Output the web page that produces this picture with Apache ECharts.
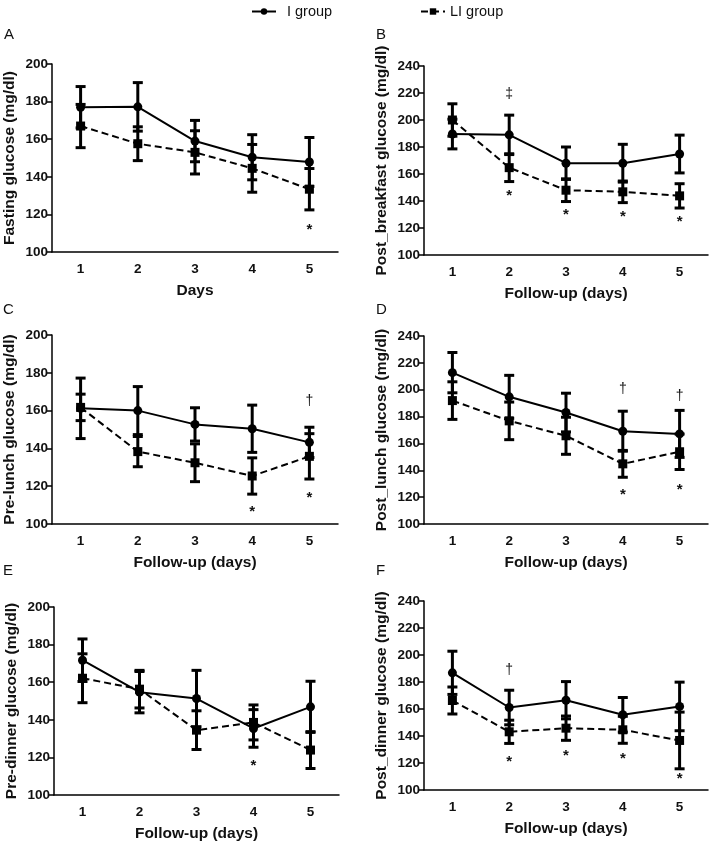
<!DOCTYPE html>
<html>
<head>
<meta charset="utf-8">
<script src="https://cdn.jsdelivr.net/npm/echarts@6/dist/echarts.min.js"></script>
<style>
html,body{margin:0;padding:0;background:#fff;}
#chart{width:709px;height:843px;}
</style>
</head>
<body>
<div id="chart"></div>
<script>
// ---- Data ----
const days = ['1', '2', '3', '4', '5'];
const seriesNames = ['I group', 'LI group'];
const panelLetters = ['A', 'B', 'C', 'D', 'E', 'F'];
const yTitles = ['Fasting glucose (mg/dl)', 'Post_breakfast glucose (mg/dl)', 'Pre-lunch glucose (mg/dl)',
  'Post_lunch glucose (mg/dl)', 'Pre-dinner glucose (mg/dl)', 'Post_dinner glucose (mg/dl)'];
const xTitles = ['Days', 'Follow-up (days)', 'Follow-up (days)', 'Follow-up (days)', 'Follow-up (days)', 'Follow-up (days)'];
const yMax = [200, 240, 200, 240, 200, 240];
const yMin = [100, 100, 100, 100, 100, 100];

// Panel A: Fasting
const aI = [177, 177.2, 159, 150.4, 147.9];
const aIerr = [11, 12.9, 11, 12, 13];
const aLI = [167, 157.6, 153, 144.5, 133.4];
const aLIerr = [11.5, 9, 11.5, 12.7, 11];
const aMarks = [[4, 112, '*']];

// Panel B: Post breakfast
const bI = [189.6, 189, 168, 168, 174.8];
const bIerr = [11, 14.6, 12, 14, 14];
const bLI = [200, 164.7, 148, 146.8, 143.8];
const bLIerr = [12, 10.3, 8.4, 8, 9];
const bMarks = [[1, 219, '‡'], [1, 144, '*'], [2, 130, '*'], [3, 128.6, '*'], [4, 124.4, '*']];

// Panel C: Pre-lunch
const cI = [161.2, 160, 152.7, 150.4, 143.2];
const cIerr = [16, 12.7, 8.8, 12.5, 8];
const cLI = [161.7, 138.3, 132.4, 125.4, 135.8];
const cLIerr = [7, 8, 10, 9.6, 12];
const cMarks = [[3, 106.5, '*'], [4, 165.2, '†'], [4, 113.6, '*']];

// Panel D: Post lunch
const dI = [212.7, 194.7, 183, 169.1, 167.1];
const dIerr = [15, 16, 14.4, 14.9, 17.5];
const dLI = [191.9, 176.8, 165.7, 144.8, 153.8];
const dLIerr = [14, 14, 13.8, 10, 13.2];
const dMarks = [[3, 200.4, '†'], [3, 121.6, '*'], [4, 195.2, '†'], [4, 125.3, '*']];

// Panel E: Pre-dinner
const eI = [171.7, 154.7, 151.3, 135.4, 146.9];
const eIerr = [11.3, 11, 15, 10, 13.6];
const eLI = [162.1, 156.3, 134.5, 138.6, 123.9];
const eLIerr = [13, 10, 10.3, 9.3, 9.8];
const eMarks = [[3, 115.6, '*']];

// Panel F: Post dinner
const fI = [186.8, 161.1, 166.5, 155.7, 161.9];
const fIerr = [16, 12.8, 13.8, 12.8, 18];
const fLI = [166.3, 143.1, 145.8, 144.6, 136.7];
const fLIerr = [10, 8.6, 9, 10, 21];
const fMarks = [[1, 189, '†'], [1, 120.7, '*'], [2, 125.4, '*'], [3, 123.2, '*'], [4, 108.4, '*']];

const panelData = [
  [aI, aIerr, aLI, aLIerr, aMarks],
  [bI, bIerr, bLI, bLIerr, bMarks],
  [cI, cIerr, cLI, cLIerr, cMarks],
  [dI, dIerr, dLI, dLIerr, dMarks],
  [eI, eIerr, eLI, eLIerr, eMarks],
  [fI, fIerr, fLI, fLIerr, fMarks]
];

// ---- Layout ----
const grids = [
  {left: 52, top: 64, width: 286, height: 188},
  {left: 424, top: 66, width: 284, height: 189},
  {left: 52, top: 335, width: 286, height: 189},
  {left: 424, top: 336, width: 284, height: 188},
  {left: 54, top: 607, width: 285, height: 188},
  {left: 424, top: 601, width: 284, height: 189}
];
const letterPos = [[4, 27], [376, 27], [3, 302], [376, 302], [3, 563], [376, 563]];

const FONT = '"Liberation Sans", Arial, Helvetica, sans-serif';

const option = {
  backgroundColor: '#fff',
  animation: false,
  textStyle: {fontFamily: FONT},
  legend: [
    {data: ['I group'], left: 246, top: -1, itemWidth: 24, itemHeight: 8, itemGap: 0,
      textStyle: {fontSize: 14.5, color: '#111', fontFamily: FONT, padding: [0, 0, 0, 6]}},
    {data: ['LI group'], left: 415, top: -1, itemWidth: 24, itemHeight: 8, itemGap: 0,
      textStyle: {fontSize: 14.5, color: '#111', fontFamily: FONT, padding: [0, 0, 0, 0]}}
  ],
  grid: grids.map(g => Object.assign({outerBoundsMode: 'none', containLabel: false}, g)),
  xAxis: [], yAxis: [], series: [],
  graphic: panelLetters.map((l, i) => ({
    type: 'text', left: letterPos[i][0], top: letterPos[i][1],
    style: {text: l, fontSize: 15, fontFamily: FONT, fill: '#111'}
  }))
};

function errRender(params, api) {
  const x = api.value(0);
  const lo = api.coord([x, api.value(1)]);
  const hi = api.coord([x, api.value(2)]);
  const hw = 5;
  const st = {stroke: '#000', lineWidth: 3};
  return {
    type: 'group',
    children: [
      {type: 'line', shape: {x1: lo[0], y1: lo[1], x2: hi[0], y2: hi[1]}, style: st},
      {type: 'line', shape: {x1: lo[0] - hw, y1: lo[1], x2: lo[0] + hw, y2: lo[1]}, style: st},
      {type: 'line', shape: {x1: hi[0] - hw, y1: hi[1], x2: hi[0] + hw, y2: hi[1]}, style: st}
    ]
  };
}
function markRender(params, api) {
  const p = api.coord([api.value(0), api.value(1)]);
  const ch = api.value(2);
  return {
    type: 'text', x: p[0], y: p[1],
    style: {text: ch, fontSize: ch === '*' ? 15 : 14, fontWeight: ch === '*' ? 'bold' : 'normal',
      fill: '#111', align: 'center', verticalAlign: 'middle', fontFamily: FONT}
  };
}

panelData.forEach((pd, i) => {
  const [vI, eIv, vLI, eLIv, marks] = pd;
  option.xAxis.push({
    type: 'category', gridIndex: i, data: days, boundaryGap: true,
    name: xTitles[i], nameLocation: 'middle', nameGap: 31,
    nameTextStyle: {fontSize: 15.5, fontWeight: 'bold', color: '#111', fontFamily: FONT},
    axisLine: {lineStyle: {color: '#000', width: 1.5}},
    axisTick: {alignWithLabel: true, length: 5, lineStyle: {color: '#000', width: 1.5}},
    axisLabel: {fontSize: 13.5, fontWeight: 'bold', color: '#111', margin: 10, fontFamily: FONT},
    splitLine: {show: false}
  });
  option.yAxis.push({
    type: 'value', gridIndex: i, min: yMin[i], max: yMax[i], interval: 20,
    name: yTitles[i], nameLocation: 'middle', nameGap: 34, nameRotate: 90,
    nameTextStyle: {fontSize: 15.5, fontWeight: 'bold', color: '#111', fontFamily: FONT},
    axisLine: {show: true, lineStyle: {color: '#000', width: 1.5}},
    axisTick: {show: true, length: 5, lineStyle: {color: '#000', width: 1.5}},
    axisLabel: {fontSize: 13.5, fontWeight: 'bold', color: '#111', margin: 4, fontFamily: FONT},
    splitLine: {show: false}
  });
  option.series.push({
    type: 'custom', name: 'errI' + i, xAxisIndex: i, yAxisIndex: i, renderItem: errRender,
    data: vI.map((v, k) => [k, v - eIv[k], v + eIv[k]]), z: 2
  });
  option.series.push({
    type: 'custom', name: 'errLI' + i, xAxisIndex: i, yAxisIndex: i, renderItem: errRender,
    data: vLI.map((v, k) => [k, v - eLIv[k], v + eLIv[k]]), z: 2
  });
  option.series.push({
    type: 'line', name: 'LI group', xAxisIndex: i, yAxisIndex: i, data: vLI,
    symbol: 'rect', symbolSize: 9, showAllSymbol: true,
    lineStyle: {color: '#000', width: 2, type: [7, 4]},
    itemStyle: {color: '#000', borderWidth: 0}, z: 3
  });
  option.series.push({
    type: 'line', name: 'I group', xAxisIndex: i, yAxisIndex: i, data: vI,
    symbol: 'circle', symbolSize: 9, showAllSymbol: true,
    lineStyle: {color: '#000', width: 2},
    itemStyle: {color: '#000', borderWidth: 0}, z: 4
  });
  option.series.push({
    type: 'custom', name: 'marks' + i, xAxisIndex: i, yAxisIndex: i, renderItem: markRender,
    data: marks, z: 5
  });
});

const chart = echarts.init(document.getElementById('chart'), null, {renderer: 'canvas'});
chart.setOption(option);
</script>
</body>
</html>
